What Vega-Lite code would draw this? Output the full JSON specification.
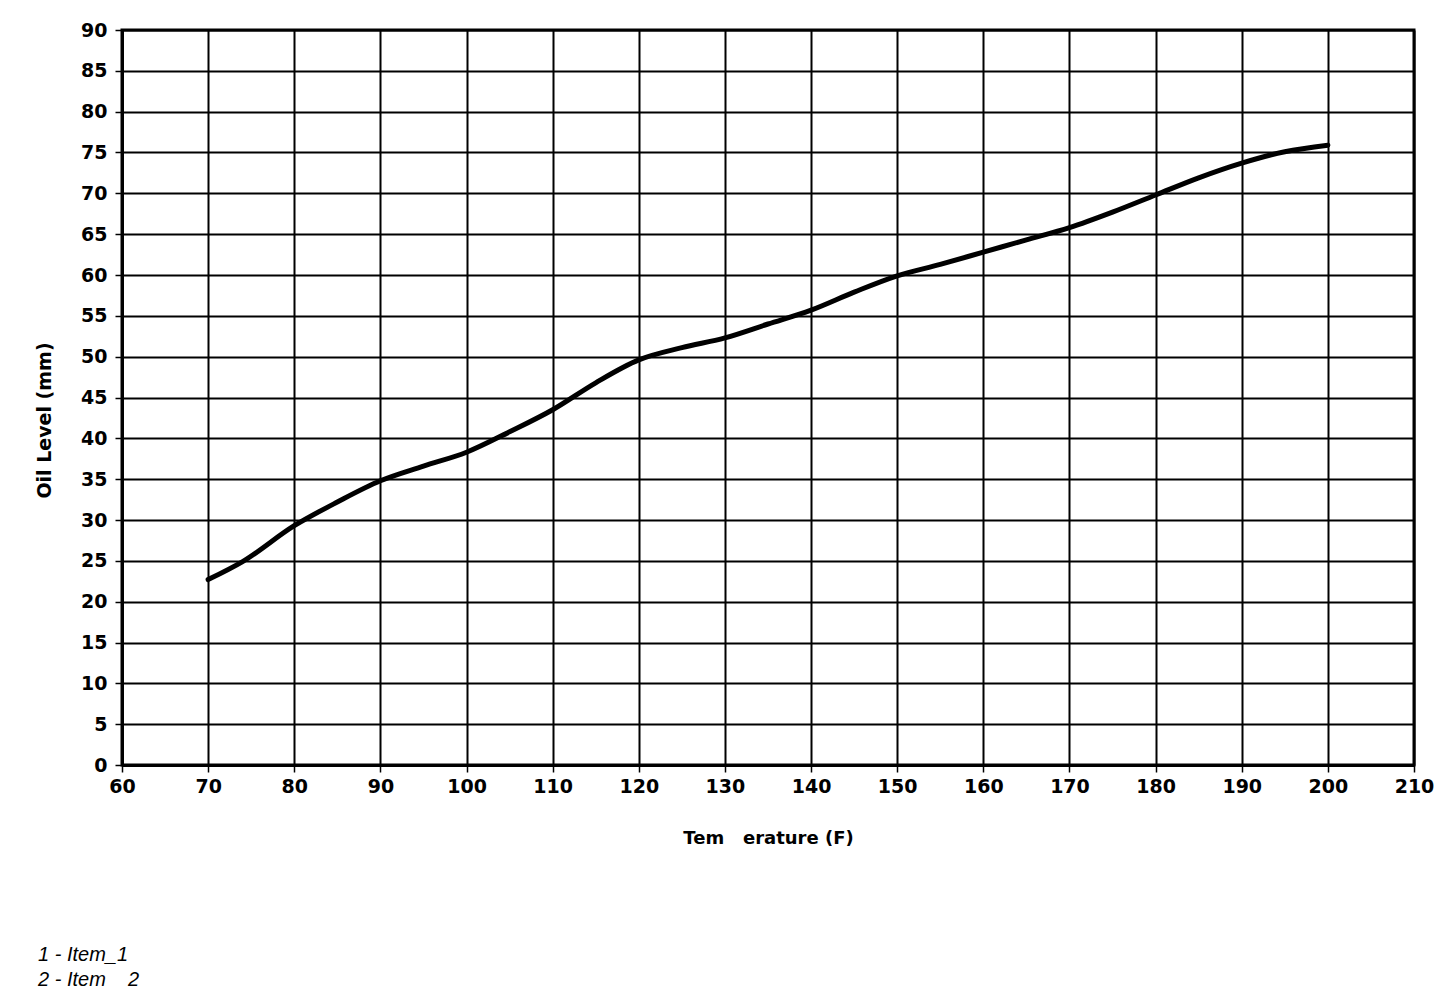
{
  "$schema": "https://vega.github.io/schema/vega-lite/v6.json",
  "width": 1292,
  "height": 735,
  "autosize": {"type": "none"},
  "padding": {"left": 122, "top": 30, "right": 42, "bottom": 227},
  "background": "white",
  "title": {
    "text": ["1 - Item_1", "2 - Item\u00a0\u00a0\u00a0\u00a02"],
    "orient": "bottom",
    "anchor": "start",
    "frame": "bounds",
    "font": "Liberation Sans",
    "fontSize": 20,
    "fontStyle": "italic",
    "fontWeight": "normal",
    "color": "black",
    "lineHeight": 25,
    "offset": 98,
    "dx": 3
  },
  "config": {
    "view": {"stroke": "black", "strokeWidth": 3},
    "axis": {
      "labelFont": "DejaVu Sans",
      "labelFontWeight": "bold",
      "labelFontSize": 19,
      "labelColor": "black",
      "labelFlush": false,
      "titleFont": "DejaVu Sans",
      "titleFontWeight": "bold",
      "titleFontSize": 18,
      "titleColor": "black",
      "gridColor": "black",
      "gridWidth": 2,
      "gridOpacity": 1,
      "domainColor": "black",
      "domainWidth": 3,
      "tickColor": "black",
      "tickWidth": 1.5,
      "tickSize": 7
    }
  },
  "data": {
    "values": [
      {"t": 70, "lvl": 22.7},
      {"t": 74, "lvl": 24.9},
      {"t": 80, "lvl": 29.3},
      {"t": 85, "lvl": 32.2},
      {"t": 90, "lvl": 34.8},
      {"t": 95, "lvl": 36.6},
      {"t": 100, "lvl": 38.3},
      {"t": 105, "lvl": 40.8},
      {"t": 110, "lvl": 43.5},
      {"t": 115, "lvl": 46.8},
      {"t": 120, "lvl": 49.6},
      {"t": 125, "lvl": 51.1},
      {"t": 130, "lvl": 52.3},
      {"t": 135, "lvl": 54.0},
      {"t": 140, "lvl": 55.7},
      {"t": 145, "lvl": 57.9},
      {"t": 150, "lvl": 59.9},
      {"t": 155, "lvl": 61.3},
      {"t": 160, "lvl": 62.8},
      {"t": 165, "lvl": 64.3},
      {"t": 170, "lvl": 65.8},
      {"t": 175, "lvl": 67.7},
      {"t": 180, "lvl": 69.8},
      {"t": 185, "lvl": 71.9},
      {"t": 190, "lvl": 73.7},
      {"t": 195, "lvl": 75.1},
      {"t": 200, "lvl": 75.9}
    ]
  },
  "mark": {"type": "line", "color": "black", "strokeWidth": 5, "interpolate": "monotone", "strokeCap": "round"},
  "encoding": {
    "x": {
      "field": "t",
      "type": "quantitative",
      "scale": {"domain": [60, 210], "nice": false, "zero": false},
      "axis": {"values": [60, 70, 80, 90, 100, 110, 120, 130, 140, 150, 160, 170, 180, 190, 200, 210], "title": "Tem\u00a0\u00a0\u00a0erature (F)", "titlePadding": 33, "labelPadding": 5}
    },
    "y": {
      "field": "lvl",
      "type": "quantitative",
      "scale": {"domain": [0, 90], "nice": false},
      "axis": {"values": [0, 5, 10, 15, 20, 25, 30, 35, 40, 45, 50, 55, 60, 65, 70, 75, 80, 85, 90], "title": "Oil Level (mm)", "titleX": -68, "titleY": 390, "titleFontSize": 19, "labelPadding": 8}
    }
  }
}
